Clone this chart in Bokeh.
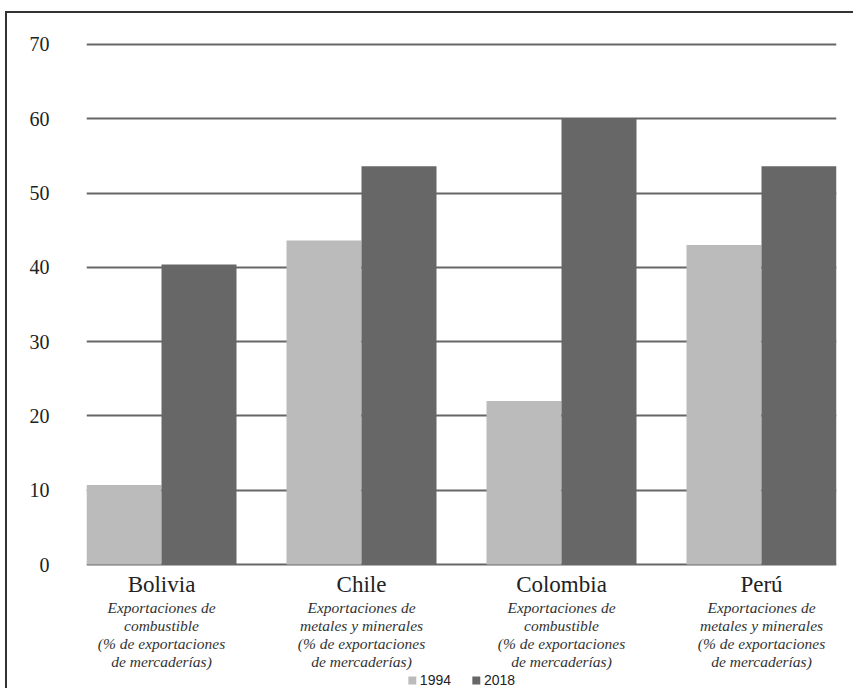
import numpy as np
from bokeh.plotting import figure
from bokeh.models import ColumnDataSource, Range1d, FixedTicker, Legend, LegendItem
from bokeh.transform import dodge
from bokeh.core.properties import value
from bokeh.embed import file_html
from bokeh.resources import INLINE

# ---- data ----
countries = ["Bolivia", "Chile", "Colombia", "Perú"]
subtitles = [
    ["Exportaciones de", "combustible", "(% de exportaciones", "de mercaderías)"],
    ["Exportaciones de", "metales y minerales", "(% de exportaciones", "de mercaderías)"],
    ["Exportaciones de", "combustible", "(% de exportaciones", "de mercaderías)"],
    ["Exportaciones de", "metales y minerales", "(% de exportaciones", "de mercaderías)"],
]
years = ["1994", "2018"]
values_1994 = [10.7, 43.6, 22.0, 43.0]
values_2018 = [40.4, 53.6, 60.0, 53.6]
y_ticks = [0, 10, 20, 30, 40, 50, 60, 70]

pos = list(np.arange(1, len(countries) + 1))
src = ColumnDataSource(dict(pos=pos, country=countries, v1=values_1994, v2=values_2018,
                            zero=[0] * len(countries)))

serif = "Liberation Serif"

# outer frame line (left and top edges) drawn as CSS background of the figure element
frame_css = {
    "background-color": "white",
    "background-image": "linear-gradient(#333333, #333333), linear-gradient(#333333, #333333)",
    "background-size": "2px 100%, 100% 2px",
    "background-position": "5px 11px, 5px 11px",
    "background-repeat": "no-repeat",
}

p = figure(width=853, height=688, output_backend="svg", toolbar_location=None,
           x_range=Range1d(0.625, 4.375), y_range=Range1d(-16.69, 74.17),
           min_border_left=86, min_border_right=17, min_border_top=13, min_border_bottom=0,
           styles=frame_css)
p.outline_line_color = None
p.background_fill_color = None
p.border_fill_color = None

bw = 0.375
r1 = p.vbar(x=dodge("pos", -bw / 2, range=p.x_range), top="v1", width=bw, source=src,
            fill_color="#bbbbbb", line_color=None)
r2 = p.vbar(x=dodge("pos", bw / 2, range=p.x_range), top="v2", width=bw, source=src,
            fill_color="#676767", line_color=None)

# axes
p.xaxis.visible = False
p.xgrid.visible = False
p.yaxis.ticker = FixedTicker(ticks=y_ticks)
p.yaxis.axis_line_color = None
p.yaxis.major_tick_line_color = None
p.yaxis.minor_tick_line_color = None
p.yaxis.major_label_standoff = 31
p.yaxis.major_label_text_font = serif
p.yaxis.major_label_text_font_size = "20px"
p.yaxis.major_label_text_color = "#222222"
p.ygrid.ticker = FixedTicker(ticks=y_ticks)
p.ygrid.grid_line_color = "#666666"
p.ygrid.grid_line_width = 2

# category labels
p.text(x="pos", y="zero", text="country", source=src, y_offset=20,
       text_font=value(serif), text_font_size="23px", text_color="#222222",
       text_align="center", text_baseline="middle")

line_offsets = [43, 61, 79, 97]
sx, sy, stext, soff = [], [], [], []
for i, lines in enumerate(subtitles):
    for j, t in enumerate(lines):
        sx.append(pos[i]); sy.append(0); stext.append(t); soff.append(line_offsets[j])
sub_src = ColumnDataSource(dict(x=sx, y=sy, text=stext, off=soff))
p.text(x="x", y="y", text="text", y_offset="off", source=sub_src,
       text_font=value(serif), text_font_style="italic", text_font_size="15.5px",
       text_color="#333333", text_align="center", text_baseline="middle")

legend = Legend(items=[LegendItem(label=years[0], renderers=[r1]),
                       LegendItem(label=years[1], renderers=[r2])],
                location="bottom_center", orientation="horizontal")
legend.label_text_font = "Liberation Sans"
legend.label_text_font_size = "14px"
legend.label_text_color = "#222222"
legend.glyph_width = 10
legend.glyph_height = 10
legend.spacing = 20
legend.padding = 0
legend.margin = 0
legend.border_line_color = None
legend.background_fill_alpha = 0
legend.label_standoff = 3
p.add_layout(legend)

open("out.html", "w").write(file_html(p, INLINE))
